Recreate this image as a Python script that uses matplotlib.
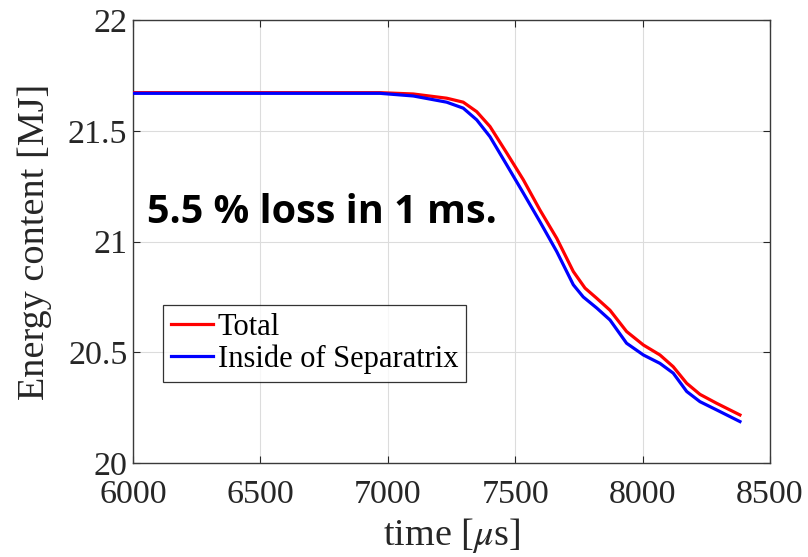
"""
Energy content vs time: total and inside of separatrix
"""
import numpy as np
import matplotlib.pyplot as plt

# -----------------------------------
# data
T_TOTAL = [6000, 6969, 7100, 7231, 7296, 7349, 7401, 7467, 7532, 7597, 7663, 7728,
           7774, 7820, 7872, 7937, 8003, 8068, 8120, 8173, 8225, 8290, 8382]
E_TOTAL = [21.673, 21.673, 21.667, 21.648, 21.630, 21.587, 21.520, 21.400, 21.279, 21.143,
           21.015, 20.865, 20.790, 20.744, 20.690, 20.594, 20.533, 20.488, 20.435, 20.360,
           20.310, 20.270, 20.217]

T_SEP = [6000, 6969, 7100, 7231, 7296, 7349, 7401, 7467, 7532, 7597, 7663, 7728,
         7767, 7820, 7872, 7937, 8003, 8068, 8120, 8173, 8225, 8290, 8382]
E_SEP = [21.670, 21.670, 21.658, 21.630, 21.603, 21.550, 21.474, 21.346, 21.219, 21.090,
         20.955, 20.805, 20.750, 20.700, 20.646, 20.541, 20.488, 20.450, 20.406, 20.323,
         20.277, 20.240, 20.187]

X_TICKS = [6000, 6500, 7000, 7500, 8000, 8500]
Y_TICKS = [20, 20.5, 21, 21.5, 22]
Y_TICKLABELS = ['20', '20.5', '21', '21.5', '22']
NOTE = '5.5 % loss in 1 ms.'
# -----------------------------------

plt.rcParams['font.family'] = ['Liberation Serif', 'DejaVu Serif']
plt.rcParams['mathtext.fontset'] = 'stix'

fig = plt.figure(figsize=(8.08, 5.57), dpi=100)
ax = fig.add_axes([0.1646, 0.1688, 0.7884, 0.7948])

ax.plot(T_TOTAL, E_TOTAL, color='#ff0000', lw=2.3, label='Total', zorder=3)
ax.plot(T_SEP, E_SEP, color='#0000ff', lw=2.3, label='Inside of Separatrix', zorder=3)

ax.set_xlim(6000, 8500)
ax.set_ylim(20, 22)
ax.set_xticks(X_TICKS)
ax.set_yticks(Y_TICKS)
ax.set_yticklabels(Y_TICKLABELS)
ax.grid(True, color='#dcdcdc', lw=0.8)
ax.set_axisbelow(True)

ax.tick_params(direction='in', length=5, width=0.8, labelsize=24.5, colors='#262626',
               top=True, right=True)
ax.tick_params(axis='x', pad=12)
ax.tick_params(axis='y', pad=4)
for sp in ax.spines.values():
    sp.set_color('#3a3a3a')
    sp.set_linewidth(1.0)

ax.set_xlabel(r'time [$\mu$s]', fontsize=27.5, color='#262626', labelpad=4)
ax.set_ylabel('Energy content [MJ]', fontsize=27.5, color='#262626')
ax.yaxis.set_label_coords(-0.127, 0.50)

ax.text(6055, 21.13, NOTE, fontsize=28.5, fontweight='bold', family='Open Sans',
        va='center', ha='left', color='black')

leg = ax.legend(loc='upper left', bbox_to_anchor=(0.047, 0.357), borderaxespad=0,
                fontsize=22, frameon=True, fancybox=False, edgecolor='black',
                handlelength=1.4, handletextpad=0.15, borderpad=0.25, labelspacing=0.1)
leg.get_frame().set_linewidth(0.9)

fig.savefig('out.png', dpi=100)
